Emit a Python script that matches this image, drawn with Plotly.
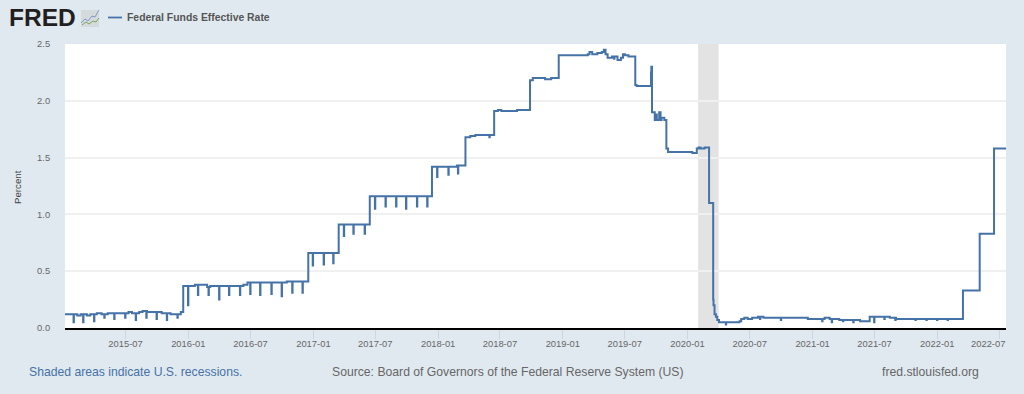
import pandas as pd
import plotly.graph_objects as go

W, H = 1024, 394
L, R, T, B = 65, 1006, 44, 328

SERIES_NAME = "Federal Funds Effective Rate"
step_dates = [
    "2015-01-05","2015-02-10","2015-02-20","2015-03-10","2015-03-20","2015-04-08","2015-04-22","2015-05-10",
    "2015-06-15","2015-07-10","2015-07-20","2015-08-10","2015-08-20","2015-09-02","2015-09-25","2015-10-15",
    "2015-11-10","2015-12-01","2015-12-10","2015-12-17",
    "2016-01-20","2016-02-25","2016-03-05","2016-06-10","2016-06-22","2016-07-15","2016-10-15","2016-12-17",
    "2017-03-16","2017-06-15","2017-12-14","2018-02-25","2018-03-22","2018-04-05",
    "2018-04-20","2018-06-14","2018-06-25","2018-07-05","2018-08-20","2018-09-05","2018-09-27","2018-10-05",
    "2018-11-10","2018-11-28","2018-12-20","2019-03-15","2019-03-20","2019-03-28","2019-04-12","2019-04-25",
    "2019-05-01","2019-05-06","2019-05-12","2019-05-25","2019-06-01","2019-06-10","2019-06-20","2019-06-26",
    "2019-07-02","2019-07-12","2019-08-01","2019-08-05","2019-09-10","2019-09-16","2019-09-17","2019-09-19",
    "2019-09-27","2019-10-01","2019-10-03","2019-10-10","2019-10-14","2019-10-17","2019-10-25","2019-10-31",
    "2019-11-05","2019-12-01","2019-12-06","2020-01-15","2020-01-28","2020-02-02","2020-02-08","2020-02-20",
    "2020-03-04","2020-03-16","2020-03-17","2020-03-20","2020-03-24","2020-03-28","2020-04-02","2020-04-10",
    "2020-06-01","2020-06-06","2020-06-15","2020-06-25","2020-07-08","2020-07-25","2020-08-10","2020-12-05",
    "2020-12-18","2021-02-05","2021-02-20","2021-03-20","2021-04-25","2021-05-20","2021-06-17","2021-08-15",
    "2021-09-02","2022-03-17","2022-05-05","2022-06-16",
]
step_values = [
    0.12,0.11,0.12,0.11,0.12,0.13,0.12,0.13,
    0.13,0.14,0.13,0.14,0.15,0.14,0.14,0.13,
    0.12,0.13,0.14,0.37,
    0.38,0.36,0.37,0.38,0.40,0.40,0.41,0.66,
    0.91,1.16,1.42,1.43,1.68,1.69,
    1.70,1.91,1.92,1.91,1.92,1.92,2.18,2.20,
    2.19,2.20,2.40,2.41,2.43,2.41,2.42,2.43,
    2.45,2.41,2.38,2.39,2.37,2.36,2.38,2.41,
    2.40,2.39,2.14,2.13,2.13,2.25,2.30,1.90,
    1.83,1.88,1.83,1.90,1.83,1.85,1.83,1.58,
    1.55,1.55,1.55,1.54,1.58,1.59,1.58,1.59,
    1.10,0.25,0.20,0.12,0.10,0.07,0.05,0.05,
    0.06,0.08,0.09,0.08,0.09,0.10,0.09,0.09,
    0.08,0.09,0.08,0.07,0.07,0.06,0.10,0.09,
    0.08,0.33,0.83,1.58,
]
end_date = "2022-07-21"

dip_dates = [
    "2015-01-30","2015-02-27","2015-03-31","2015-04-30","2015-05-29","2015-06-30","2015-07-31","2015-08-31",
    "2015-09-30","2015-10-30","2015-11-30","2015-12-31","2016-01-29","2016-02-29","2016-03-31","2016-04-29",
    "2016-05-31","2016-06-30","2016-07-29","2016-08-31","2016-09-30","2016-10-31","2016-11-30","2016-12-30",
    "2017-01-31","2017-02-28","2017-03-31","2017-04-28","2017-05-31","2017-06-30","2017-07-31","2017-08-31",
    "2017-09-29","2017-10-31","2017-11-30","2017-12-29","2018-01-31","2018-02-28","2018-05-31","2019-05-31",
    "2020-04-22","2020-07-31","2020-09-30","2021-01-29","2021-02-26","2021-03-31","2021-04-30","2021-06-30",
    "2021-07-30","2021-08-31","2021-10-29","2021-11-30","2021-12-31","2022-01-31",
]
dip_values = [
    0.05,0.05,0.06,0.09,0.08,0.09,0.07,0.09,
    0.08,0.07,0.09,0.20,0.29,0.29,0.25,0.29,
    0.29,0.30,0.29,0.30,0.28,0.31,0.31,0.55,
    0.56,0.57,0.81,0.83,0.83,1.05,1.07,1.07,
    1.05,1.07,1.07,1.33,1.35,1.36,1.68,2.37,
    0.03,0.08,0.07,0.06,0.05,0.06,0.05,0.05,
    0.08,0.07,0.07,0.07,0.07,0.07,
]

recession_start = "2020-02-01"
recession_end = "2020-04-01"
tick_dates = ["2015-07-01","2016-01-01","2016-07-01","2017-01-01","2017-07-01","2018-01-01","2018-07-01",
              "2019-01-01","2019-07-01","2020-01-01","2020-07-01","2021-01-01","2021-07-01","2022-01-01","2022-07-01"]
tick_labels = ["2015-07","2016-01","2016-07","2017-01","2017-07","2018-01","2018-07",
               "2019-01","2019-07","2020-01","2020-07","2021-01","2021-07","2022-01",""]
last_tick_label = "2022-07"
y_ticks = [0.0, 0.5, 1.0, 1.5, 2.0, 2.5]

base = pd.Series(step_values, index=pd.to_datetime(step_dates))
base.loc[pd.Timestamp(end_date)] = step_values[-1]
pts = base.copy()
for d, v in zip(pd.to_datetime(dip_dates), dip_values):
    level = base[base.index <= d].iloc[-1]
    pts.loc[d] = v
    pts.loc[d + pd.Timedelta(days=1)] = level
pts = pts.sort_index()

FONT = "Liberation Sans, Arial, sans-serif"
BG = "#e1e9f0"
BLUE = "#4572a7"
GREY = "#666666"

fig = go.Figure(go.Scatter(x=pts.index, y=pts.values, mode="lines", name=SERIES_NAME,
                           line=dict(color=BLUE, width=2, shape="hv"), hoverinfo="x+y"))

def px_x(x):
    return (x - L) / (R - L)

def px_y(y):
    return (B - y) / (B - T)

def label(text, x, y, size, color, anchor="left", bold=False, angle=0):
    fig.add_annotation(text=f"<b>{text}</b>" if bold else text, xref="paper", yref="paper",
                       x=px_x(x), y=px_y(y), xanchor=anchor, yanchor="middle", showarrow=False,
                       textangle=angle, align=anchor, font=dict(family=FONT, size=size, color=color))

fig.add_shape(type="rect", xref="x", yref="paper", x0=recession_start, x1=recession_end, y0=0, y1=1,
              fillcolor="#e3e3e3", line_width=0, layer="below")

# logo icon and legend key, in page pixels
def icon_path(points):
    return "M " + " L ".join(f"{px_x(a):.5f},{px_y(b):.5f}" for a, b in points)

fig.add_shape(type="rect", xref="paper", yref="paper", x0=px_x(81), x1=px_x(99), y0=px_y(27), y1=px_y(10),
              fillcolor="#d5dbdc", line_width=0)
fig.add_shape(type="path", xref="paper", yref="paper",
              path=icon_path([(81,23),(85,19),(88,21),(92,16),(95,17),(99,10)]),
              line=dict(color="#7d9cc4", width=1))
fig.add_shape(type="path", xref="paper", yref="paper",
              path=icon_path([(82,25),(86,22),(89,24),(93,21),(96,22),(99,18)]),
              line=dict(color="#7fa35a", width=1))
fig.add_shape(type="line", xref="paper", yref="paper", x0=px_x(108), x1=px_x(122), y0=px_y(17.5), y1=px_y(17.5),
              line=dict(color=BLUE, width=1.8))

label("FRED", 6.5, 18, 24.5, "#231f20", bold=True)
label(SERIES_NAME, 124.5, 17, 10.4, "#555555", bold=True)
label("Percent", 17, 187, 9.7, "#444444", anchor="center", angle=-90)
label(last_tick_label, 988, 343, 9.4, GREY, anchor="center")
label("Shaded areas indicate U.S. recessions.", 27, 372, 12.2, BLUE)
label("Source: Board of Governors of the Federal Reserve System (US)", 330, 372, 12.2, GREY)
label("fred.stlouisfed.org", 980.5, 372, 12.2, GREY, anchor="right")

fig.update_layout(
    width=W, height=H, autosize=False, showlegend=False,
    margin=dict(l=L, r=W - R, t=T, b=H - B, pad=0),
    paper_bgcolor=BG, plot_bgcolor="white",
    font=dict(family=FONT, size=9.4, color=GREY),
    xaxis=dict(type="date", range=["2015-01-05", end_date], tickmode="array", tickvals=tick_dates,
               ticktext=tick_labels, ticks="outside", ticklen=9, tickwidth=1, tickcolor="#c9d6e3",
               ticklabelstandoff=-3,
               showgrid=False, showline=True, linecolor="black", linewidth=2, zeroline=False,
               tickangle=0, tickfont=dict(size=9.4, color=GREY)),
    yaxis=dict(range=[0, 2.5], tickmode="array", tickvals=y_ticks, ticktext=[f"{v:.1f}" for v in y_ticks],
               ticks="outside", ticklen=12, tickwidth=0, tickcolor=BG, gridcolor="#f0f0f0", gridwidth=1.5,
               zeroline=False, showline=False, tickfont=dict(size=9.4, color=GREY)),
)

fig.write_html("out.html", config={"displayModeBar": False},
               post_script="document.body.style.margin='0';document.body.style.overflow='hidden';")
